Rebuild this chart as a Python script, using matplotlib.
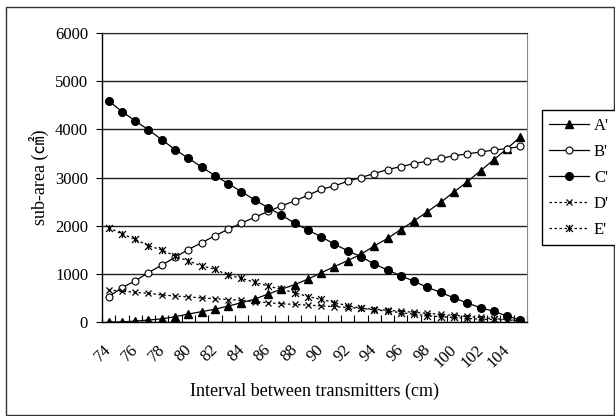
import matplotlib
matplotlib.use("Agg")
import matplotlib.pyplot as plt
import matplotlib.transforms as mtransforms
from matplotlib.path import Path
from matplotlib.patches import Rectangle

# Interval between transmitters (cm), one category per cm
intervals = list(range(74, 106))
tick_labels = [str(v) for v in range(74, 106, 2)]

# sub-areas (cm^2)
a_vals = [0, 0, 20, 40, 65, 110, 165, 215, 265, 330, 400, 475, 580, 680, 775, 890,
          1020, 1150, 1275, 1405, 1580, 1735, 1920, 2100, 2290, 2485, 2700, 2910,
          3140, 3370, 3600, 3845]
b_vals = [522, 712, 855, 1025, 1182, 1342, 1505, 1645, 1791, 1923, 2055, 2172,
          2295, 2410, 2512, 2630, 2755, 2825, 2922, 3000, 3082, 3165, 3226, 3290,
          3340, 3400, 3450, 3490, 3530, 3570, 3600, 3645]
c_vals = [4590, 4370, 4175, 3990, 3785, 3580, 3400, 3220, 3040, 2875, 2705, 2535,
          2375, 2220, 2055, 1910, 1770, 1615, 1480, 1355, 1205, 1080, 960, 845,
          720, 615, 500, 395, 297, 222, 125, 42]
d_vals = [664, 643, 616, 595, 562, 540, 521, 500, 485, 465, 450, 422, 401, 380,
          365, 350, 335, 318, 300, 285, 265, 245, 225, 200, 180, 160, 135, 115,
          95, 70, 50, 30]
e_vals = [1960, 1830, 1715, 1585, 1495, 1370, 1265, 1165, 1095, 975, 905, 825,
          745, 680, 608, 528, 468, 403, 338, 285, 250, 228, 194, 160, 130, 110,
          97, 76, 58, 52, 42, 28]

plt.rcParams["font.family"] = ["Liberation Serif", "Noto Sans CJK JP"]

fig = plt.figure(figsize=(6.15, 4.16), dpi=100)
W, H = 615, 416

# outer chart border
fig.patches.append(Rectangle((5.5 / W, 1.5 / H), 608 / W, 407.5 / H,
                             transform=fig.transFigure, fill=False,
                             edgecolor="#333333", linewidth=1.0))

ax = fig.add_axes([102 / W, (H - 322) / H, 425 / W, 289 / H])

# Excel style asterisk: X plus a vertical bar
star = Path([(0, -1), (0, 1), (-1, -1), (1, 1), (-1, 1), (1, -1)],
            [Path.MOVETO, Path.LINETO, Path.MOVETO, Path.LINETO, Path.MOVETO, Path.LINETO])

ax.plot(intervals, a_vals, color="black", lw=0.9, marker="^", ms=5.5, label="A'")
ax.plot(intervals, b_vals, color="black", lw=0.9, marker="o", ms=5,
        mfc="white", mew=0.8, label="B'")
ax.plot(intervals, c_vals, color="black", lw=0.9, marker="o", ms=5.5, label="C'")
ax.plot(intervals, d_vals, color="black", lw=0.9, ls=(0, (2, 2)), marker="x",
        ms=5, mew=0.9, label="D'")
ax.plot(intervals, e_vals, color="black", lw=0.9, ls=(0, (2, 2)), marker=star,
        ms=5, mew=0.9, label="E'")

ax.set_xlim(73.5, 105.5)
ax.set_ylim(0, 6000)
ax.set_yticks(range(0, 7000, 1000))
ax.yaxis.grid(True, color="#222222", lw=1.0)
ax.set_axisbelow(True)

ax.set_xticks(range(74, 106, 2))
ax.set_xticklabels(tick_labels, rotation=45, ha="right", va="top",
                   rotation_mode="anchor")
ax.set_xticks([v + 0.5 for v in range(73, 106)], minor=True)
ax.tick_params(axis="x", which="major", length=0, pad=14, labelsize=12)
ax.tick_params(axis="x", which="minor", direction="in", length=5, width=0.8)
ax.tick_params(axis="y", direction="out", length=4, width=0.8, pad=6,
               labelsize=12)

# nudge rotated labels slightly left, as in the original
shift = mtransforms.ScaledTranslation(-5 / 100, 0, fig.dpi_scale_trans)
for lab in ax.get_xticklabels():
    lab.set_transform(lab.get_transform() + shift)

for side in ["left", "bottom"]:
    ax.spines[side].set_color("black")
    ax.spines[side].set_linewidth(1.0)
ax.spines["top"].set_color("#222222")
ax.spines["right"].set_color("#888888")

fig.text(39 / W, 1 - 177 / H, "sub-area (\u33a0)", rotation=90,
         ha="center", va="center", fontsize=13)
fig.text(314 / W, 1 - 391 / H, "Interval between transmitters (cm)",
         ha="center", va="center", fontsize=13)

leg = fig.legend(loc="upper left", bbox_to_anchor=(541.5 / W, 1 - 110 / H),
                 fontsize=12, frameon=True, fancybox=False, framealpha=1,
                 edgecolor="black", handlelength=2.4, labelspacing=0.6,
                 borderpad=0.45, handletextpad=0.3, borderaxespad=0)
leg.get_frame().set_linewidth(1.0)

fig.savefig("out.png", dpi=100)
